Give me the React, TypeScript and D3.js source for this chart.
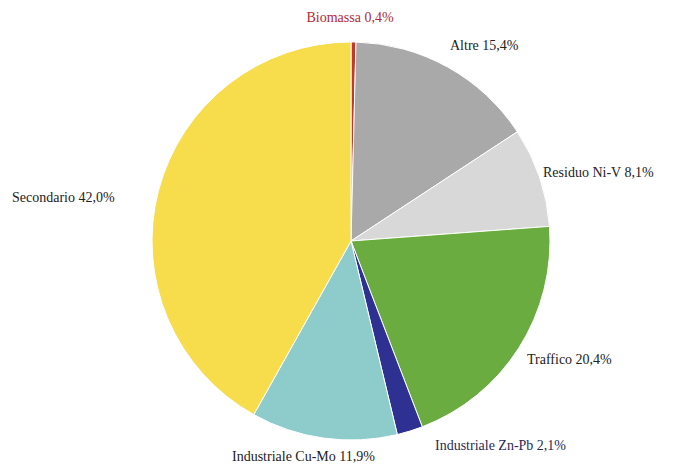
import React from "react";
import * as d3 from "d3";

const categories = [
  "Biomassa",
  "Altre",
  "Residuo Ni-V",
  "Traffico",
  "Industriale Zn-Pb",
  "Industriale Cu-Mo",
  "Secondario",
];
const values = [0.4, 15.4, 8.1, 20.4, 2.1, 11.9, 42.0];
const labels = [
  "Biomassa 0,4%",
  "Altre 15,4%",
  "Residuo Ni-V 8,1%",
  "Traffico 20,4%",
  "Industriale Zn-Pb 2,1%",
  "Industriale Cu-Mo 11,9%",
  "Secondario 42,0%",
];
const colors = ["#c0392b", "#a9a9a9", "#d8d8d8", "#6aac3f", "#2e3192", "#8ecccc", "#f7dc4c"];
const labelColors = ["#b02a3a", "#222", "#222", "#222", "#2a2a55", "#222", "#222"];
// label anchor positions (x, y, anchor)
const labelPos: [number, number, string][] = [
  [350, 22, "middle"],
  [450, 50, "start"],
  [543, 177, "start"],
  [527, 364, "start"],
  [435, 450, "start"],
  [232, 461, "start"],
  [12, 202, "start"],
];

export default function App() {
  const W = 693, H = 466;
  const cx = 351, cy = 241, r = 199;
  const pie = d3.pie<number>().sort(null).value((d) => d);
  const arcs = pie(values);
  const arc = d3.arc<d3.PieArcDatum<number>>().innerRadius(0).outerRadius(r);
  return (
    <svg width={W} height={H} style={{ position: "absolute", left: 0, top: 0, background: "#fff" }}>
      <g transform={`translate(${cx},${cy})`}>
        {arcs.map((a, i) => (
          <path key={categories[i]} d={arc(a) || ""} fill={colors[i]} stroke="#fff" strokeWidth={1} />
        ))}
      </g>
      {labels.map((t, i) => (
        <text
          key={t}
          x={labelPos[i][0]}
          y={labelPos[i][1]}
          textAnchor={labelPos[i][2] as any}
          style={{ fontFamily: "'Liberation Serif', 'DejaVu Serif', Times, serif" }}
          fontSize={14}
          fill={labelColors[i]}
        >
          {t}
        </text>
      ))}
    </svg>
  );
}
